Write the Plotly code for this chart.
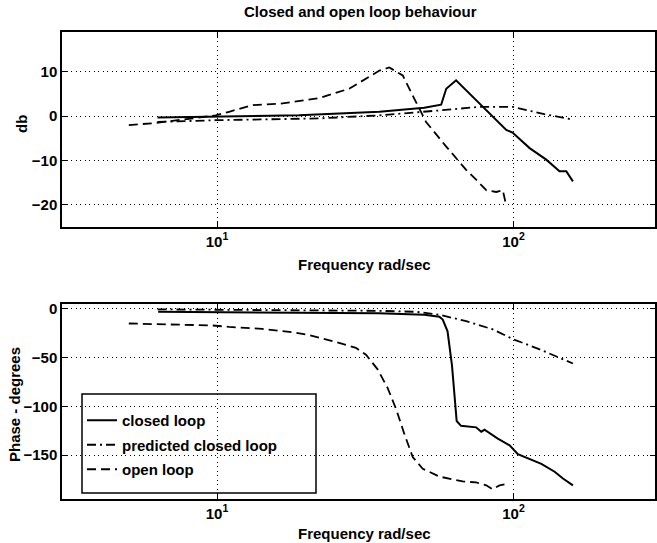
import plotly.graph_objects as go

# ---- magnitude (dB) ----
cl_mag_f = [6.3, 10, 18.9, 35.3, 50.0, 57.0, 59.3, 64.0, 76.7, 89.7, 94.5, 99.2,
            113.3, 128.9, 142.9, 150.6, 158.6]
cl_mag_db = [-0.3, -0.1, 0.2, 1.0, 1.9, 2.6, 6.2, 8.1, 2.8, -1.6, -3.1, -3.7,
             -7.2, -9.8, -12.4, -12.4, -14.7]

pcl_mag_f = [6.3, 9.9, 22.1, 35.3, 56.2, 76.7, 99.5, 112.0, 127.0, 156.7]
pcl_mag_db = [-1.3, -0.9, -0.5, 0.2, 1.3, 2.1, 2.1, 1.3, 0.45, -0.7]

ol_mag_f = [5.04, 6.04, 8.47, 9.9, 10.98, 13.2, 16.2, 19.9, 22.1, 27.9, 35.3,
            38.1, 42.3, 46.3, 50.7, 59.2, 64.0, 69.2, 74.8, 80.9, 87.4, 92.0, 94.5]
ol_mag_db = [-2.0, -1.6, -0.4, 0.2, 1.0, 2.5, 2.8, 3.6, 4.1, 6.2, 10.3,
             11.0, 9.2, 3.9, -1.3, -6.8, -9.4, -12.1, -14.3, -16.7, -17.1, -16.7, -20.2]

# ---- phase (degrees) ----
cl_ph_f = [6.33, 10, 18.9, 35.0, 50.0, 56.2, 57.7, 59.9, 62.0, 63.1, 64.3, 66.5,
           74.8, 77.8, 79.8, 88.5, 97.0, 103.4, 113.2, 124.1, 137.6, 146.8, 158.6]
cl_ph_deg = [-3.0, -3.2, -3.6, -4.5, -6.0, -8.0, -11, -23, -58, -87, -115, -120,
             -121.5, -126, -124, -133, -140, -149, -154, -159, -167, -174, -181]

pcl_ph_f = [6.3, 10, 20.0, 35.0, 46.9, 56.2, 69.2, 85.1, 99.5, 122.5, 158.6]
pcl_ph_deg = [-0.5, -0.8, -1.2, -2.0, -3.0, -6.0, -12.6, -21, -31, -41.5, -56]

ol_ph_f = [5.04, 9.64, 10.98, 14.2, 17.97, 20.5, 24.5, 29.4, 31.8, 34.8, 37.6,
           40.2, 42.8, 45.7, 49.4, 56.2, 67.4, 74.8, 80.9, 85.0, 89.7, 93.2]
ol_ph_deg = [-15, -17, -18.5, -20.5, -24, -27, -33, -40, -47, -62, -81,
             -103, -128, -152, -164, -172, -177, -178, -181, -185, -181, -180]

tick_vals = [10, 100]
tick_text = ["10<sup>1</sup>", "10<sup>2</sup>"]
mag_ticks = [-20, -10, 0, 10]
ph_ticks = [-150, -100, -50, 0]

W, H = 657, 543
FONT = "Liberation Sans, Arial, Helvetica, sans-serif"

styles = {
    "closed loop": dict(color="black", width=2, dash="solid"),
    "predicted closed loop": dict(color="black", width=1.8, dash="9px,4px,2px,4px"),
    "open loop": dict(color="black", width=1.8, dash="9px,5px"),
}

fig = go.Figure()
series = [
    ("closed loop", cl_mag_f, cl_mag_db, cl_ph_f, cl_ph_deg),
    ("predicted closed loop", pcl_mag_f, pcl_mag_db, pcl_ph_f, pcl_ph_deg),
    ("open loop", ol_mag_f, ol_mag_db, ol_ph_f, ol_ph_deg),
]
for name, mf, mv, pf, pv in series:
    fig.add_trace(go.Scatter(x=mf, y=mv, mode="lines", line=styles[name],
                             xaxis="x", yaxis="y", showlegend=False, hoverinfo="skip"))
    fig.add_trace(go.Scatter(x=pf, y=pv, mode="lines", line=styles[name], name=name,
                             legendgroup=name, xaxis="x2", yaxis="y2", hoverinfo="skip"))

x0, x1 = 62 / W, 655 / W
top_dom = [1 - 227 / H, 1 - 32 / H]
bot_dom = [1 - 499 / H, 1 - 304 / H]

axis_common = dict(
    showline=True, linecolor="black", linewidth=1.5, mirror="ticks",
    ticks="inside", ticklen=5, tickcolor="black", tickwidth=1,
    showgrid=True, gridcolor="black", gridwidth=1.3, griddash="1.3px,3.2px",
    zeroline=False, automargin=False,
    tickfont=dict(family=FONT, size=15, color="black", weight="bold"),
)
xcommon = dict(axis_common, type="log", range=[0.4771, 2.4771],
               tickvals=tick_vals, ticktext=tick_text, domain=[x0, x1])

fig.update_layout(
    width=W, height=H,
    margin=dict(l=0, r=0, t=0, b=0),
    paper_bgcolor="white", plot_bgcolor="white",
    xaxis=dict(xcommon, anchor="y"),
    yaxis=dict(axis_common, range=[-25, 19], tickvals=mag_ticks, domain=top_dom, anchor="x"),
    xaxis2=dict(xcommon, anchor="y2"),
    yaxis2=dict(axis_common, range=[-195, 5], tickvals=ph_ticks, domain=bot_dom, anchor="x2"),
    showlegend=True,
    legend=dict(
        x=82 / W, y=1 - 404 / H, xanchor="left", yanchor="top",
        bgcolor="rgba(0,0,0,0)", borderwidth=0,
        traceorder="grouped", tracegroupgap=2,
        font=dict(family=FONT, size=15, color="black", weight="bold"),
    ),
    shapes=[dict(type="rect", xref="paper", yref="paper",
                 x0=82 / W, x1=316 / W, y0=1 - 493 / H, y1=1 - 394 / H,
                 line=dict(color="black", width=1.5), fillcolor="rgba(0,0,0,0)")],
)

label_font = dict(family=FONT, size=15, color="black", weight="bold")
annots = [
    dict(text="Closed and open loop behaviour", x=360 / W, y=1 - 12 / H),
    dict(text="Frequency rad/sec", x=364 / W, y=1 - 264 / H),
    dict(text="Frequency rad/sec", x=364 / W, y=1 - 533 / H),
    dict(text="db", x=22 / W, y=1 - 124 / H, textangle=-90),
    dict(text="Phase - degrees", x=14 / W, y=1 - 405 / H, textangle=-90),
]
for a in annots:
    fig.add_annotation(xref="paper", yref="paper", showarrow=False,
                       xanchor="center", yanchor="middle", font=label_font, **a)

fig.write_html("out.html")
